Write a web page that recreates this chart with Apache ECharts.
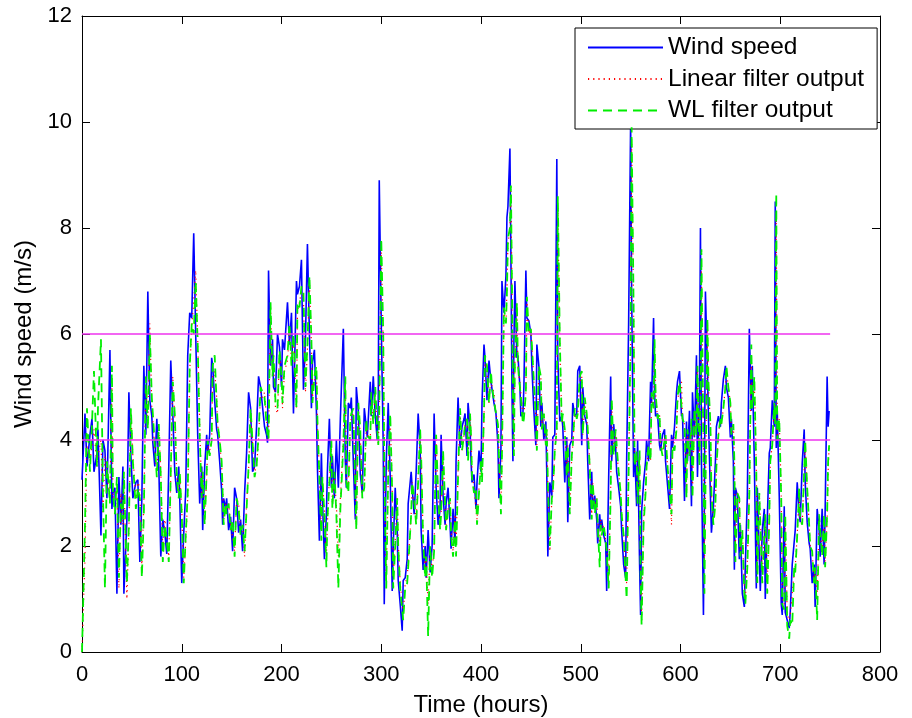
<!DOCTYPE html>
<html>
<head>
<meta charset="utf-8">
<script src="https://cdn.jsdelivr.net/npm/echarts@6/dist/echarts.min.js"></script>
<style>html,body{margin:0;padding:0;background:#fff;}#c{width:912px;height:718px;}</style>
</head>
<body>
<div id="c"></div>
<script>
// Time (hours)
const hours = [
0,3,5,8,10,12,15,16,19,21,
23,25,28,30,31,33,35,37,39,41,
42,45,47,49,51,54,56,58,60,62,
64,66,68,70,71,73,75,77,79,81,
83,85,87,89,91,93,95,97,98,100,
102,104,106,108,110,112,114,116,118,120,
121,123,125,126,128,130,131,133,135,136,
138,140,141,142,144,145,147,149,151,153,
155,157,159,161,163,165,167,169,171,173,
175,177,179,181,183,185,186,187,189,191,
192,194,196,198,200,201,203,206,208,210,
212,215,216,218,220,222,224,226,228,230,
231,233,235,236,238,240,241,243,245,246,
248,250,251,253,255,257,259,262,264,265,
267,269,270,272,274,275,277,279,281,283,
285,286,289,290,292,294,296,297,298,300,
302,303,305,307,309,311,312,314,316,317,
319,321,322,324,326,327,330,331,333,335,
337,339,340,342,344,345,347,349,351,353,
355,357,359,360,362,364,365,367,369,370,
372,374,375,377,379,381,383,384,386,387,
389,390,391,393,395,396,398,400,401,403,
404,406,408,410,411,413,415,417,418,420,
421,423,425,426,427,429,430,431,432,433,
434,436,437,439,440,442,443,445,446,448,
450,451,453,455,456,458,460,461,463,465,
466,467,469,471,472,474,476,477,479,481,
482,484,486,487,489,491,492,494,496,497,
499,501,502,504,506,507,509,511,512,514,
516,517,519,520,521,523,525,526,528,530,
531,533,535,536,538,540,541,543,545,546,
548,550,551,553,554,556,557,559,560,561,
563,565,566,568,570,571,573,574,575,577,
579,580,582,584,585,587,589,591,592,594,
596,597,599,601,602,604,606,607,609,611,
612,614,616,617,619,620,621,623,624,625,
627,628,630,631,633,635,636,638,640,641,
643,645,646,648,650,651,653,654,655,657,
659,660,662,664,665,667,669,671,672,674,
676,677,679,680,682,684,685,687,689,690,
692,694,695,696,697,699,701,702,704,705,
707,709,710,712,714,715,717,719,720,722,
724,725,727,729,730,732,734,735,737,739,
740,742,744,745,747,748,749
];
// Wind speed (m/s)
const windSpeed = [
3.25,4.5,3.5,4.1,4.4,3.4,3.75,4.2,2.2,4.0,
3.8,2.9,5.7,2.7,3.0,3.1,1.1,3.3,2.4,3.5,
1.1,2.5,4.9,3.7,2.9,3.2,3.25,1.7,2.9,5.4,
4.1,6.8,4.75,4.45,3.95,3.5,4.4,3.5,1.8,2.5,
2.25,1.85,3.5,5.5,4.5,3.4,3.0,3.5,2.9,1.3,
2.25,3.05,5.6,6.4,6.3,7.9,6.0,4.1,2.8,3.5,
2.3,3.5,4.1,3.75,4.1,5.55,5.4,4.75,4.2,4.1,
3.6,3.05,2.4,2.9,2.7,2.9,2.3,2.55,1.9,3.1,
2.9,2.25,2.5,1.9,3.0,3.75,4.9,4.6,3.4,3.5,
4.25,5.2,5.0,5.0,4.25,4.1,3.95,7.2,5.4,5.9,
5.0,4.9,6.0,5.75,5.0,5.9,5.7,6.6,5.8,6.4,
4.5,7.0,6.75,6.9,7.4,4.95,5.9,7.7,6.0,4.6,
5.45,5.7,4.55,3.5,2.1,3.75,2.9,1.75,2.6,3.4,
4.4,3.1,3.7,2.9,4.0,3.1,4.4,6.1,3.6,3.1,
4.7,4.6,4.8,3.6,2.5,5.0,4.55,3.35,3.0,4.6,
4.25,4.05,5.1,4.45,5.2,4.45,4.0,4.7,8.9,6.2,
3.9,0.9,3.6,4.7,3.3,1.15,2.0,3.1,2.3,1.35,
0.9,0.4,1.35,1.4,1.75,2.8,3.4,3.1,2.6,3.4,
4.5,3.85,2.3,1.55,2.0,1.4,2.3,1.5,2.0,4.5,
3.1,2.4,2.7,4.1,2.95,2.4,2.8,3.1,2.4,1.95,
2.7,2.05,3.6,4.8,3.85,4.25,4.4,4.5,3.7,4.7,
4.25,3.6,3.2,3.35,2.7,3.2,3.8,3.4,4.7,5.8,
5.55,4.75,5.5,5.1,5.1,4.7,4.5,3.9,2.9,3.85,
7.0,6.4,7.1,8.2,8.4,9.5,7.45,5.0,3.6,5.85,
7.0,5.55,5.6,5.0,4.45,4.5,5.0,7.2,6.3,6.25,
6.0,5.4,4.55,3.9,5.8,5.4,4.25,4.7,4.0,4.35,
3.3,1.8,3.2,2.95,4.05,4.1,9.3,5.55,4.35,4.45,
4.25,3.2,4.05,2.45,3.9,4.0,4.7,4.45,4.5,5.3,
5.4,3.9,5.0,4.45,4.3,3.6,2.5,3.4,2.7,2.95,
2.5,2.05,2.6,2.3,2.5,2.2,2.05,1.15,3.3,5.2,
3.6,4.3,3.85,3.4,3.1,2.75,2.3,1.65,1.4,3.6,
6.2,10.0,6.8,3.3,3.85,2.75,4.0,1.65,0.7,2.65,
3.2,3.6,4.0,3.6,5.1,4.7,6.3,4.9,4.45,4.5,
3.9,3.8,4.1,4.2,3.6,3.15,2.7,4.1,3.85,4.25,
4.9,5.1,5.3,4.45,4.5,2.85,4.35,3.6,4.55,2.75,
4.9,4.05,5.6,3.3,4.9,8.0,3.6,0.7,2.95,6.8,
5.3,4.45,2.95,2.25,2.75,3.6,4.25,4.45,4.25,4.7,
5.15,5.4,5.0,4.8,4.05,4.4,3.6,1.55,3.1,2.95,
1.75,2.4,1.1,0.85,1.65,2.95,6.1,4.55,5.4,3.6,
1.2,3.1,3.1,1.15,2.3,2.7,1.0,2.5,3.75,3.85,
4.75,4.25,8.5,3.85,4.55,2.95,0.9,0.7,2.75,0.75,
0.75,0.45,0.75,1.65,1.65,2.3,3.2,2.6,2.45,3.55,
4.2,3.2,2.45,2.05,1.95,1.3,1.65,0.85,2.7,2.3,
1.8,2.7,1.65,2.65,5.2,4.25,4.55
];
// Linear filter output
const linearOut = [
0,1.8,3.9,3.6,3.9,4.2,3.5,3.7,4.0,2.6,
3.7,3.4,2.9,5.0,2.9,2.9,3.1,1.2,3.0,2.4,
3.3,1.0,2.3,4.5,3.7,2.9,3.2,3.1,1.6,2.8,
5.0,4.3,6.2,4.6,4.4,3.8,3.4,4.2,3.4,1.9,
2.5,2.1,1.8,3.3,5.2,4.4,3.3,3.0,3.3,2.7,
1.4,2.1,2.9,5.3,6.1,6.1,7.2,5.9,4.3,3.0,
3.4,2.5,3.3,3.9,3.8,4.0,5.2,5.3,4.8,4.3,
4.0,3.5,3.1,2.5,2.8,2.7,2.8,2.4,2.4,1.9,
2.9,2.8,2.3,2.4,1.8,2.8,3.4,4.5,4.5,3.4,
3.5,4.0,4.9,4.8,4.9,4.4,4.1,4.0,6.5,5.3,
5.5,4.6,4.5,5.6,5.3,4.6,5.3,5.5,6.1,5.5,
5.9,4.6,6.4,6.4,6.8,6.7,4.9,5.7,7.0,5.8,
4.8,5.1,5.3,4.3,3.4,2.3,3.2,2.7,1.8,2.4,
3.3,3.9,2.8,3.3,2.8,1.8,2.9,4.0,5.1,3.3,
3.1,4.3,4.4,4.5,3.2,2.4,4.6,4.1,3.0,3.1,
4.3,4.1,4.0,4.8,4.4,4.9,4.2,3.9,4.6,7.6,
5.8,3.7,1.4,3.3,4.4,3.1,1.4,2.1,2.9,2.1,
1.3,0.9,0.7,1.3,1.4,1.7,2.6,3.2,2.8,2.5,
3.3,4.1,3.6,2.2,1.5,1.8,0.9,2.0,1.5,2.0,
4.0,3.0,2.4,2.6,3.7,2.8,2.4,2.7,2.9,2.3,
1.9,2.6,2.0,3.4,4.5,3.8,4.1,4.3,4.4,3.7,
4.5,4.1,3.4,3.1,3.1,2.5,3.1,3.6,3.3,4.4,
5.5,5.3,4.7,5.2,5.0,4.9,4.5,4.3,3.7,2.8,
3.6,6.4,6.2,6.8,7.7,8.0,8.7,7.0,4.9,3.8,
5.5,6.5,5.4,5.4,4.9,4.4,4.5,4.9,6.6,6.0,
6.1,5.8,5.1,4.4,3.9,5.3,5.2,4.3,4.5,3.9,
4.2,3.1,1.9,2.9,3.0,3.8,4.2,8.4,5.8,4.4,
4.4,4.2,3.4,3.9,2.7,3.7,3.9,4.5,4.4,4.5,
5.1,5.2,4.1,4.7,4.4,4.2,3.6,2.6,3.2,2.7,
2.9,2.5,2.0,2.5,2.3,2.4,2.1,2.0,1.4,3.1,
4.7,3.8,4.1,3.8,3.4,3.0,2.6,2.2,1.5,1.3,
3.5,5.8,9.6,6.4,3.6,3.7,2.9,3.7,1.6,0.6,
2.5,3.1,3.5,3.8,3.6,4.8,4.6,5.7,4.9,4.4,
4.5,3.9,3.8,4.0,4.1,3.5,3.1,2.4,3.8,3.8,
4.2,4.7,5.0,5.1,4.4,4.3,3.0,4.1,3.7,4.3,
3.0,4.5,4.1,5.3,3.6,4.6,7.2,3.9,1.6,3.1,
6.2,5.0,4.3,3.0,2.5,2.8,3.5,4.1,4.4,4.3,
4.6,5.0,5.3,5.0,4.7,4.1,4.3,3.6,2.0,3.0,
2.9,1.9,2.3,1.2,1.0,1.7,3.0,5.6,4.6,5.1,
3.5,1.5,3.0,3.0,1.5,2.2,2.6,1.3,2.5,3.6,
3.9,4.6,4.3,8.3,4.0,4.4,3.0,1.0,0.9,2.5,
0.7,0.6,0.7,0.7,1.5,1.6,2.2,3.0,2.5,2.4,
3.4,3.9,3.1,2.4,2.0,1.9,1.3,1.6,1.0,2.5,
2.3,1.9,2.5,1.7,2.5,3.4,3.9
];
// WL filter output
const wlOut = [
0,2.4,4.6,3.4,4.3,5.3,3.5,4.6,5.9,3.0,
1.2,3.6,2.8,5.4,3.0,2.6,3.3,1.4,2.8,2.5,
3.4,1.3,2.4,4.6,3.6,2.7,3.1,2.9,1.4,2.6,
5.2,4.2,6.0,4.8,4.5,3.9,3.3,4.3,3.3,1.7,
2.4,2.1,1.7,3.4,5.1,4.5,3.3,2.9,3.4,2.6,
1.3,2.2,3.0,5.4,6.2,6.0,7.0,5.8,4.1,2.9,
3.4,2.4,3.4,4.0,3.7,4.0,5.4,5.6,4.7,4.3,
4.0,3.6,3.0,2.4,2.8,2.6,2.8,2.3,2.5,1.8,
2.9,2.7,2.2,2.4,1.9,2.7,3.5,4.6,4.6,3.3,
3.5,4.1,5.0,4.9,4.8,4.3,4.1,4.0,6.6,5.2,
5.6,4.7,4.6,5.7,5.2,4.7,5.4,5.6,6.2,5.4,
6.0,4.6,6.6,6.5,6.9,6.8,5.0,5.8,7.1,5.9,
4.7,5.2,5.4,4.4,3.3,2.1,3.3,2.6,1.6,2.5,
3.2,4.0,2.7,3.4,2.6,1.2,2.7,3.9,5.2,3.2,
3.0,4.4,4.5,4.6,3.1,2.3,4.7,4.2,2.9,3.1,
4.4,4.1,4.0,4.9,4.3,5.0,4.2,3.9,4.5,7.8,
6.0,3.6,1.2,3.4,4.5,3.0,1.2,2.0,2.9,2.0,
1.2,0.8,0.6,1.2,1.3,1.6,2.6,3.2,2.9,2.4,
3.2,4.2,3.7,2.1,1.4,1.8,0.3,2.0,1.4,1.9,
4.1,3.0,2.3,2.6,3.8,2.8,2.3,2.7,2.9,2.2,
1.8,2.5,1.8,3.3,4.6,3.8,4.1,4.3,4.4,3.6,
4.5,4.1,3.3,3.0,3.1,2.4,3.0,3.6,3.2,4.5,
5.6,5.4,4.7,5.3,5.0,5.0,4.5,4.3,3.7,2.6,
3.7,6.5,6.2,6.8,7.8,8.0,8.8,7.0,4.8,3.7,
5.5,6.6,5.4,5.4,4.8,4.3,4.4,4.9,6.7,6.0,
6.1,5.8,5.1,4.4,3.8,5.4,5.2,4.2,4.5,3.9,
4.2,3.2,2.0,2.9,3.0,3.8,4.2,8.6,5.9,4.3,
4.5,4.2,3.3,3.9,2.6,3.7,3.9,4.6,4.4,4.5,
5.2,5.3,4.1,4.8,4.5,4.2,3.5,2.5,3.2,2.6,
2.9,2.4,1.6,2.4,2.2,2.4,2.1,1.9,1.2,3.0,
4.8,3.7,4.2,3.9,3.4,3.0,2.6,2.2,1.4,1.0,
3.4,6.0,9.9,6.5,3.5,3.8,2.8,3.8,1.5,0.5,
2.4,3.0,3.5,3.9,3.6,4.9,4.6,5.9,4.9,4.4,
4.5,3.9,3.7,4.0,4.1,3.5,3.0,2.6,3.9,3.8,
4.2,4.8,5.1,5.1,4.4,4.3,2.9,4.2,3.7,4.4,
2.9,4.6,4.1,5.4,3.5,4.7,7.6,3.8,1.1,3.0,
6.3,5.1,4.3,3.0,2.4,2.8,3.5,4.1,4.4,4.3,
4.6,5.0,5.4,5.0,4.7,4.1,4.3,3.6,1.7,3.0,
2.9,1.8,2.3,1.1,0.9,1.6,3.0,5.8,4.6,5.2,
3.4,1.3,3.0,3.0,1.3,2.2,2.6,1.1,2.5,3.6,
3.9,4.7,4.3,8.65,4.0,4.4,2.9,0.9,0.8,2.6,
0.5,0.25,0.6,0.5,1.6,1.5,2.2,3.1,2.5,2.4,
3.4,4.0,3.1,2.4,2.0,1.9,1.3,1.6,0.6,2.6,
2.3,1.8,2.6,1.6,2.6,3.6,3.9
];
// Threshold lines (m/s) and their time span
const thresholds = [4, 6];
const thresholdSpan = [0, 750];
const xTicks = [0, 800, 100];
const yTicks = [0, 12, 2];

const font = 'Liberation Sans, Arial, Helvetica, sans-serif';
const zip = (xs, ys) => xs.map((x, i) => [x, ys[i]]);

const series = [
  { name: 'Wind speed', type: 'line', data: zip(hours, windSpeed), symbol: 'none',
    lineStyle: { color: '#0000ff', width: 1.6 }, itemStyle: { color: '#0000ff' }, z: 2, animation: false },
  { name: 'Linear filter output', type: 'line', data: zip(hours, linearOut), symbol: 'none',
    lineStyle: { color: '#ff0000', width: 1.2, type: [1.2, 4] }, itemStyle: { color: '#ff0000' }, z: 3, animation: false },
  { name: 'WL filter output', type: 'line', data: zip(hours, wlOut), symbol: 'none',
    lineStyle: { color: '#00ee00', width: 1.8, type: [9, 6] }, itemStyle: { color: '#00ee00' }, z: 4, animation: false }
];
thresholds.forEach(t => {
  series.push({ name: 'th' + t, type: 'line', data: thresholdSpan.map(h => [h, t]), symbol: 'none',
    lineStyle: { color: '#ee33ee', width: 1.5 }, z: 5, silent: true, animation: false });
});

const axisCommon = {
  axisLine: { show: true, onZero: false, lineStyle: { color: '#000', width: 1 } },
  axisTick: { show: true, inside: true, length: 8, lineStyle: { color: '#000' } },
  splitLine: { show: false }
};

const chart = echarts.init(document.getElementById('c'), null, { renderer: 'canvas' });
chart.setOption({
  backgroundColor: '#ffffff',
  animation: false,
  grid: { left: 82, right: 32, top: 16, bottom: 66, show: false, containLabel: false, outerBoundsMode: 'none' },
  legend: {
    data: ['Wind speed', 'Linear filter output', 'WL filter output'],
    orient: 'vertical', left: 575, top: 28,
    itemWidth: 75, itemHeight: 14, itemGap: 6.5,
    padding: [7, 13, 6, 12],
    borderColor: '#000', borderWidth: 1, backgroundColor: '#fff',
    itemStyle: { opacity: 0 },
    textStyle: { fontFamily: font, fontSize: 24.5, color: '#000', lineHeight: 24 },
    selectedMode: false
  },
  xAxis: [
    Object.assign({ type: 'value', min: xTicks[0], max: xTicks[1], interval: xTicks[2], position: 'bottom',
      name: 'Time (hours)', nameLocation: 'middle', nameGap: 41,
      nameTextStyle: { fontFamily: font, fontSize: 24, color: '#000' },
      axisLabel: { fontFamily: font, fontSize: 22, color: '#000', margin: 12 } }, axisCommon),
    Object.assign({ type: 'value', min: xTicks[0], max: xTicks[1], interval: xTicks[2], position: 'top',
      axisLabel: { show: false } }, axisCommon)
  ],
  yAxis: [
    Object.assign({ type: 'value', min: yTicks[0], max: yTicks[1], interval: yTicks[2], position: 'left',
      name: 'Wind speed (m/s)', nameLocation: 'middle', nameGap: 42,
      nameTextStyle: { fontFamily: font, fontSize: 24, color: '#000' },
      axisLabel: { fontFamily: font, fontSize: 22, color: '#000', margin: 10 } }, axisCommon),
    Object.assign({ type: 'value', min: yTicks[0], max: yTicks[1], interval: yTicks[2], position: 'right',
      axisLabel: { show: false } }, axisCommon)
  ],
  series: series
});
</script>
</body>
</html>
